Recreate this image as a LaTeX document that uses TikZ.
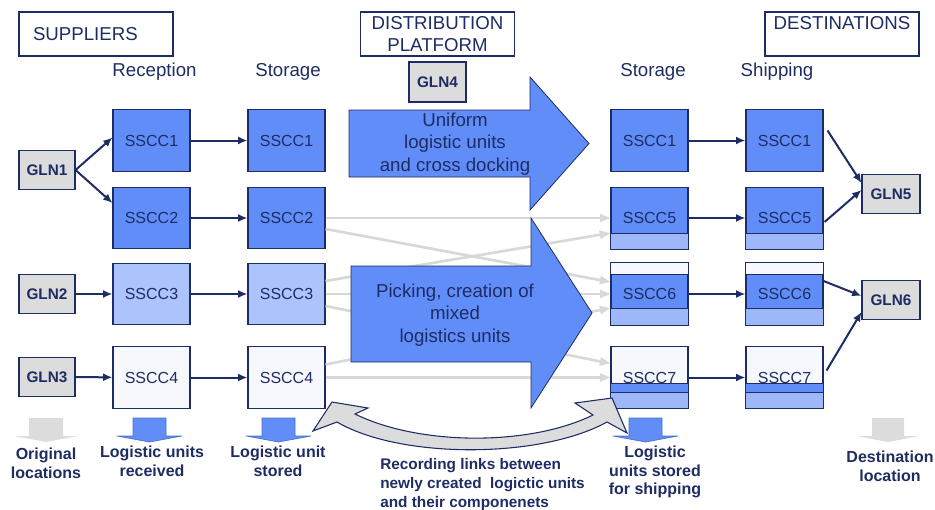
\documentclass[tikz,border=0pt]{standalone}
\usepackage{fontspec}
\setmainfont{Liberation Sans}
\usetikzlibrary{arrows.meta,positioning,calc}

\definecolor{navy}{RGB}{30,44,100}
\definecolor{unitblue}{RGB}{96,141,248}
\definecolor{paleblue}{RGB}{172,196,251}
\definecolor{bandblue}{RGB}{158,183,249}
\definecolor{dotwhite}{RGB}{246,248,254}
\definecolor{glngrey}{RGB}{220,220,220}
\definecolor{linkgrey}{RGB}{216,216,216}

\begin{document}
\begin{tikzpicture}[x=0.75pt, y=-0.75pt, >={Latex[length=7pt,width=6pt]},
  every node/.style={text=navy},
  titlebox/.style={draw=navy, line width=0.8pt, minimum width=115.5pt, minimum height=33pt, inner sep=0pt, font=\fontsize{14}{16.5}\selectfont},
  colhead/.style={anchor=base, font=\fontsize{14}{16.5}\selectfont},
  unitbox/.style={draw=navy, line width=0.8pt, fill=unitblue, minimum width=57.75pt, minimum height=46pt, inner sep=0pt, font=\fontsize{12}{14}\selectfont},
  glnbox/.style={draw=navy, line width=0.8pt, fill=glngrey, minimum width=42pt, minimum height=29.5pt, inner sep=0pt, font=\fontsize{11.5}{14}\selectfont\bfseries},
  bandbox/.style={draw=navy, line width=0.8pt, fill=bandblue},
  flowline/.style={->, draw=navy, line width=1.5pt},
  mixline/.style={-{Triangle[length=8pt,width=6pt]}, draw=linkgrey, line width=2pt},
  bigarrow/.style={draw=navy, line width=0.6pt, fill=unitblue},
  arrowtext/.style={align=center, font=\fontsize{14}{16.9}\selectfont},
  caption/.style={align=center, font=\fontsize{12}{14}\selectfont\bfseries}]
\useasboundingbox (0,0) rectangle (935,510);

\node (suppliers) [titlebox, text width=94.5pt, inner xsep=10.5pt, align=left] at (96,34) {SUPPLIERS};
\node (platform) [titlebox, align=center] at (437.5,34) {DISTRIBUTION\\PLATFORM};
\node (destinations) [titlebox, text height=13.5pt, text depth=19.5pt] at (842,34) {DESTINATIONS};

\node (reception) [colhead] at (154.5,77) {Reception};
\node (storageA) [colhead] at (288,77) {Storage};
\node (storageB) [colhead] at (653,77) {Storage};
\node (shipping) [colhead] at (777,77) {Shipping};

\node (gln1) [glnbox] at (47,170) {GLN1};
\node (gln2) [glnbox] at (47,294) {GLN2};
\node (gln3) [glnbox] at (47,377) {GLN3};
\node (gln4) [glnbox, minimum width=42.75pt, minimum height=30pt] at (437.5,82) {GLN4};
\node (gln5) [glnbox, minimum width=43.5pt] at (891,194) {GLN5};
\node (gln6) [glnbox, minimum width=43.5pt] at (891,300) {GLN6};

% -------------------------------

\node (rec1) [unitbox] at (151.5,140.5) {SSCC1};
\node (rec2) [unitbox] at (151.5,218) {SSCC2};
\node (rec3) [unitbox, fill=paleblue] at (151.5,294) {SSCC3};
\node (rec4) [unitbox, fill=dotwhite] at (151.5,377.5) {SSCC4};

\node (sto1) [unitbox] at (286.5,140.5) {SSCC1};
\node (sto2) [unitbox] at (286.5,218) {SSCC2};
\node (sto3) [unitbox, fill=paleblue] at (286.5,294) {SSCC3};
\node (sto4) [unitbox, fill=dotwhite] at (286.5,377.5) {SSCC4};

\node (dst1) [unitbox] at (649.5,140.5) {SSCC1};
\node (dst5) [unitbox] at (649.5,218) {SSCC5};
\node (dst6) [unitbox] at (649.5,294) {SSCC6};
\node (dst7) [unitbox, fill=dotwhite] at (649.5,377.5) {SSCC7};

\node (shp1) [unitbox] at (784.5,140.5) {SSCC1};
\node (shp5) [unitbox] at (784.5,218) {SSCC5};
\node (shp6) [unitbox] at (784.5,294) {SSCC6};
\node (shp7) [unitbox, fill=dotwhite] at (784.5,377.5) {SSCC7};

\draw[bandbox] (dst5.south west) rectangle ($(dst5.south east)+(0,-16)$);
\draw[bandbox] (shp5.south west) rectangle ($(shp5.south east)+(0,-16)$);
\draw[bandbox] (dst6.south west) rectangle ($(dst6.south east)+(0,-17)$);
\draw[bandbox] (shp6.south west) rectangle ($(shp6.south east)+(0,-17)$);
\draw[bandbox, fill=dotwhite] (dst6.north west) rectangle ($(dst6.north east)+(0,12)$);
\draw[bandbox, fill=dotwhite] (shp6.north west) rectangle ($(shp6.north east)+(0,12)$);
\draw[bandbox, fill=unitblue] ($(dst7.south west)+(0,-25)$) rectangle ($(dst7.south east)+(0,-16)$);
\draw[bandbox, fill=unitblue] ($(shp7.south west)+(0,-25)$) rectangle ($(shp7.south east)+(0,-16)$);
\draw[bandbox] (dst7.south west) rectangle ($(dst7.south east)+(0,-16)$);
\draw[bandbox] (shp7.south west) rectangle ($(shp7.south east)+(0,-16)$);

% -------------------------------

\draw[flowline] (gln1.east) -- ($(rec1.west)+(0,-3)$);
\draw[flowline] (gln1.east) -- ($(rec2.west)+(0,-15)$);
\draw[flowline] (gln2) -- (rec3);
\draw[flowline] (gln3) -- (rec4);
\draw[flowline] (rec1) -- (sto1);
\draw[flowline] (rec2) -- (sto2);
\draw[flowline] (rec3) -- (sto3);
\draw[flowline] (rec4) -- (sto4);

\draw[flowline] (dst1) -- (shp1);
\draw[flowline] (dst5) -- (shp5);
\draw[flowline] (dst6) -- (shp6);
\draw[flowline] (dst7) -- (shp7);
\draw[flowline] ($(shp1.east)+(4,-10)$) -- ($(gln5.west)+(0,-11)$);
\draw[flowline] ($(shp5.east)+(1,4)$) -- ($(gln5.west)+(0,-4)$);
\draw[flowline] ($(shp6.east)+(0,-13)$) -- ($(gln6.west)+(0,-4)$);
\draw[flowline] ($(shp7.east)+(3,-7)$) -- ($(gln6.west)+(0,12)$);

\draw[mixline] (sto2) -- (dst5);
\draw[mixline] ($(sto2.east)+(0,11)$) -- ($(dst6.west)+(0,-12)$);
\draw[mixline] ($(sto3.east)+(0,-13)$) -- ($(dst5.west)+(0,15)$);
\draw[mixline] (sto3) -- (dst6);
\draw[mixline] ($(sto3.east)+(0,12)$) -- ($(dst7.west)+(0,-14)$);
\draw[mixline] ($(sto4.east)+(0,-13)$) -- ($(dst6.west)+(0,14)$);
\draw[mixline] (sto4) -- (dst7);

% -------------------------------

\draw[bigarrow] (349,110) -- (530,110) -- (530,77) -- (589,143.5) -- (530,210) -- (530,177) -- (349,177) -- cycle;
\node (uniform) [arrowtext] at (455,144) {Uniform\\logistic units\\and cross docking};

\draw[bigarrow] (351,266) -- (531,266) -- (531,218) -- (592,313) -- (531,408) -- (531,362) -- (351,362) -- cycle;
\node (picking) [arrowtext] at (455,315) {Picking, creation of\\mixed\\logistics units};

\filldraw[draw=navy, line width=0.8pt, fill=glngrey] (313,431) -- (332,402) -- (368,408) -- (355,414)
  .. controls (420,446) and (530,446) .. (593,415) -- (575,403) -- (612,398) -- (627,433) -- (607,422)
  .. controls (540,459) and (400,459) .. (337,422) -- cycle;

% -------------------------------

\fill[glngrey] (29,418) -- ++(34,0) -- ++(0,18) -- ++(15,0) -- ++(-32,6) -- ++(-32,-6) -- ++(15,0) -- cycle;
\filldraw[fill=unitblue, draw=unitblue!70!navy, line width=0.5pt] (133,418) -- ++(33,0) -- ++(0,18) -- ++(16,0) -- ++(-32.5,6) -- ++(-32.5,-6) -- ++(16,0) -- cycle;
\filldraw[fill=unitblue, draw=unitblue!70!navy, line width=0.5pt] (262,418) -- ++(33,0) -- ++(0,18) -- ++(16,0) -- ++(-32.5,6) -- ++(-32.5,-6) -- ++(16,0) -- cycle;
\filldraw[fill=unitblue, draw=unitblue!70!navy, line width=0.5pt] (629,418) -- ++(33,0) -- ++(0,18) -- ++(16,0) -- ++(-32.5,6) -- ++(-32.5,-6) -- ++(16,0) -- cycle;
\fill[glngrey] (872,418) -- ++(32,0) -- ++(0,18) -- ++(15,0) -- ++(-31,6) -- ++(-31,-6) -- ++(15,0) -- cycle;

\node (original) [caption] at (46,463) {Original\\locations};
\node (received) [caption] at (152,461) {Logistic units\\received};
\node (stored) [caption] at (278,461) {Logistic unit\\stored};
\node (recording) [caption, align=left, anchor=west, inner sep=0pt, font=\fontsize{11.5}{14.25}\selectfont\bfseries] at (380,485) {Recording links between\\newly created\ \ logictic units\\and their componenets};
\node (forshipping) [caption] at (655,472) {Logistic\\units stored\\for shipping};
\node (destination) [caption] at (890,466) {Destination\\location};
\end{tikzpicture}
\end{document}
